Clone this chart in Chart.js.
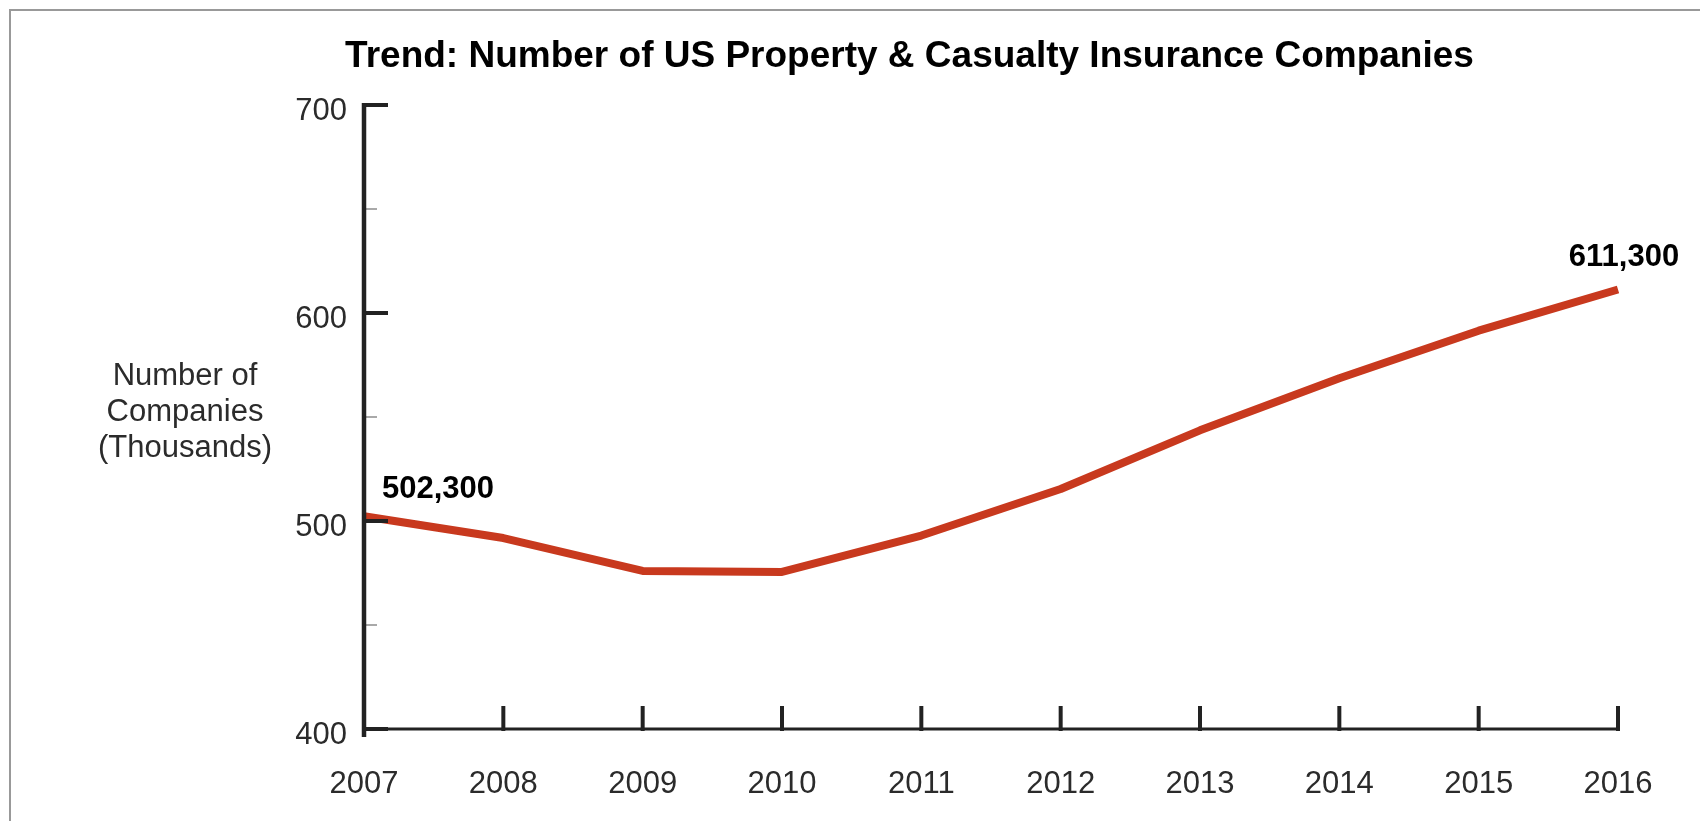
<!DOCTYPE html>
<html>
<head>
<meta charset="utf-8">
<title>Trend: Number of US Property &amp; Casualty Insurance Companies</title>
<script src="https://cdn.jsdelivr.net/npm/chart.js@4/dist/chart.umd.min.js"></script>
<style>
  html, body { margin: 0; padding: 0; background: #ffffff; }
  #wrap { position: relative; width: 1700px; height: 821px; overflow: hidden; }
  #frame { position: absolute; left: 9px; top: 9px; width: 1800px; height: 900px;
           border-top: 2px solid #999999; border-left: 2px solid #999999; }
  canvas { position: absolute; left: 0; top: 0; }
</style>
</head>
<body>
<div id="wrap">
  <div id="frame"></div>
  <canvas id="chart" width="1700" height="821"></canvas>
</div>
<script>
// Years on the horizontal axis
const years = ['2007', '2008', '2009', '2010', '2011', '2012', '2013', '2014', '2015', '2016'];
// Number of companies, in thousands
const companies = [502.3, 491.8, 476.0, 475.5, 493.0, 515.4, 543.6, 568.6, 591.5, 611.3];
// Labelled y-axis ticks and the unlabelled half steps between them
const yTicks = [400, 500, 600, 700];
const yMinorTicks = [450, 550, 650];
// Which points carry a value label
const labelledPoints = [0, 9];

const chartTitle = 'Trend: Number of US Property & Casualty Insurance Companies';
const yAxisCaption = ['Number of', 'Companies', '(Thousands)'];

const FONT = "'Liberation Sans', Arial, Helvetica, sans-serif";
const INK = '#2b2b2b';

function formatThousands(v) {
  return Math.round(v * 1000).toLocaleString('en-US');
}

// Axis lines, inward tick marks, headings and end-point value labels
const decorations = {
  id: 'decorations',
  afterDatasetsDraw(chart) {
    const { ctx, chartArea, scales } = chart;
    const x = scales.x, y = scales.y;
    const left = chartArea.left, bottom = chartArea.bottom, top = chartArea.top;
    ctx.save();
    ctx.lineCap = 'butt';

    // minor y ticks
    ctx.strokeStyle = '#a9a9a9';
    ctx.lineWidth = 2;
    yMinorTicks.forEach(v => {
      const py = y.getPixelForValue(v);
      ctx.beginPath(); ctx.moveTo(left, py); ctx.lineTo(left + 13, py); ctx.stroke();
    });

    // major y ticks
    ctx.strokeStyle = '#222222';
    ctx.lineWidth = 4;
    yTicks.forEach(v => {
      const py = y.getPixelForValue(v);
      ctx.beginPath(); ctx.moveTo(left, py); ctx.lineTo(left + 24, py); ctx.stroke();
    });

    // x axis line
    const lastX = x.getPixelForValue(years.length - 1);
    ctx.lineWidth = 3;
    ctx.beginPath(); ctx.moveTo(left, bottom); ctx.lineTo(lastX + 2, bottom); ctx.stroke();

    // x ticks pointing up into the plot
    ctx.lineWidth = 4;
    for (let i = 1; i < years.length; i++) {
      const px = x.getPixelForValue(i);
      ctx.beginPath(); ctx.moveTo(px, bottom + 2); ctx.lineTo(px, bottom - 23); ctx.stroke();
    }

    // y axis line
    ctx.lineWidth = 4.5;
    ctx.beginPath(); ctx.moveTo(left, top - 2); ctx.lineTo(left, bottom + 8); ctx.stroke();

    // chart title
    ctx.fillStyle = '#000000';
    ctx.textAlign = 'center';
    ctx.textBaseline = 'alphabetic';
    ctx.font = 'bold 37px ' + FONT;
    ctx.fillText(chartTitle, 909.5, 67);

    // y axis caption
    ctx.fillStyle = INK;
    ctx.font = '31px ' + FONT;
    yAxisCaption.forEach((line, i) => ctx.fillText(line, 185, 385 + i * 36));

    // value labels at the first and last points
    const meta = chart.getDatasetMeta(0);
    ctx.fillStyle = '#000000';
    ctx.font = 'bold 31px ' + FONT;
    labelledPoints.forEach(i => {
      const pt = meta.data[i];
      const text = formatThousands(companies[i]);
      if (i === 0) {
        ctx.textAlign = 'left';
        ctx.fillText(text, pt.x + 18, pt.y - 18);
      } else {
        ctx.textAlign = 'center';
        ctx.fillText(text, pt.x + 6, pt.y - 23);
      }
    });
    ctx.restore();
  }
};

new Chart(document.getElementById('chart'), {
  type: 'line',
  data: {
    labels: years,
    datasets: [{
      data: companies,
      borderColor: '#c8391e',
      borderWidth: 8,
      borderCapStyle: 'butt',
      borderJoinStyle: 'round',
      tension: 0,
      pointRadius: 0,
      pointHoverRadius: 0,
      fill: false,
      clip: false
    }]
  },
  options: {
    responsive: false,
    devicePixelRatio: 1,
    animation: false,
    events: [],
    layout: { padding: { top: 105, right: 82, bottom: 0, left: 0 } },
    plugins: {
      legend: { display: false },
      title: { display: false },
      tooltip: { enabled: false }
    },
    scales: {
      x: {
        type: 'category',
        offset: false,
        grid: { display: false, drawTicks: false },
        border: { display: false },
        ticks: {
          autoSkip: false,
          maxRotation: 0,
          padding: 37,
          color: INK,
          font: { family: FONT, size: 31 }
        },
        afterFit(scale) { scale.height = 92; }
      },
      y: {
        min: 400,
        max: 700,
        grid: { display: false, drawTicks: false },
        border: { display: false },
        afterBuildTicks(scale) { scale.ticks = yTicks.map(v => ({ value: v })); },
        ticks: {
          padding: 17,
          labelOffset: 6,
          color: INK,
          font: { family: FONT, size: 31 },
          callback: v => String(v)
        },
        afterFit(scale) { scale.width = 364; }
      }
    }
  },
  plugins: [decorations]
});
</script>
</body>
</html>
